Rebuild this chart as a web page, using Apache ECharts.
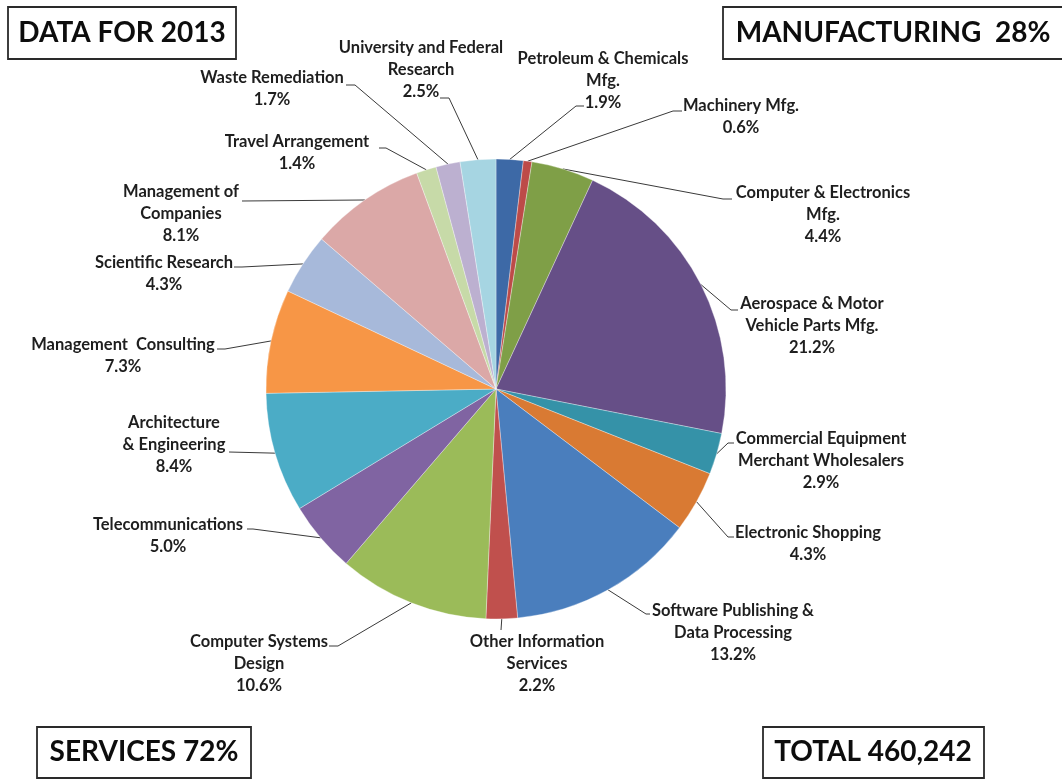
<!DOCTYPE html>
<html>
<head>
<meta charset="utf-8">
<script src="https://cdn.jsdelivr.net/npm/echarts@6/dist/echarts.min.js"></script>
<style>
  html, body { margin: 0; padding: 0; background: #ffffff; }
  #chart { width: 1062px; height: 779px; }
</style>
</head>
<body>
<div id="chart"></div>
<script>
// Industry shares (percent), clockwise from 12 o'clock
const categories = [
  'Petroleum & Chemicals\nMfg.',
  'Machinery Mfg.',
  'Computer & Electronics\nMfg.',
  'Aerospace & Motor\nVehicle Parts Mfg.',
  'Commercial Equipment\nMerchant Wholesalers',
  'Electronic Shopping',
  'Software Publishing &\nData Processing',
  'Other Information\nServices',
  'Computer Systems\nDesign',
  'Telecommunications',
  'Architecture\n& Engineering',
  'Management  Consulting',
  'Scientific Research',
  'Management of\nCompanies',
  'Travel Arrangement',
  'Waste Remediation',
  'University and Federal\nResearch'
];
const shares = [1.9, 0.6, 4.4, 21.2, 2.9, 4.3, 13.2, 2.2, 10.6, 5.0, 8.4, 7.3, 4.3, 8.1, 1.4, 1.7, 2.5];

// Summary boxes
const yearText = 'DATA FOR 2013';
const manufacturingText = 'MANUFACTURING  28%';
const servicesText = 'SERVICES 72%';
const totalText = 'TOTAL 460,242';

const sliceColors = [
  '#3d69a6', '#bd4b48', '#7f9f47', '#664f87', '#3592a8', '#d97a33',
  '#4a7ebd', '#c0504d', '#9bbb59', '#8064a2', '#4bacc6', '#f79646',
  '#a7b9da', '#dba8a7', '#c7daa8', '#bcb0d0', '#a6d5e2'
];

// Label block placement: centre x, first-line centre y, leader elbow point, stub length (+ right, - left)
const labelPlacement = [
  { x: 603, y: 59,  elbow: [576, 106], stub: 8 },
  { x: 741, y: 106, elbow: [673, 111], stub: 9 },
  { x: 823, y: 193, elbow: [723, 199], stub: 9 },
  { x: 812, y: 304, elbow: [731, 310], stub: 7 },
  { x: 821, y: 439, elbow: [728, 443], stub: 6 },
  { x: 808, y: 533, elbow: [728, 537], stub: 6 },
  { x: 733, y: 611, elbow: [646, 614], stub: 4 },
  { x: 537, y: 642, elbow: [501, 630], stub: 0 },
  { x: 259, y: 642, elbow: [338, 646], stub: -9 },
  { x: 168, y: 525, elbow: [253, 529], stub: -6 },
  { x: 174, y: 423, elbow: [229, 452], stub: 0 },
  { x: 123, y: 345, elbow: [225, 349], stub: -8 },
  { x: 164, y: 263, elbow: [242, 267], stub: -8 },
  { x: 181, y: 192, elbow: [242, 201], stub: 0 },
  { x: 297, y: 142, elbow: [386, 148], stub: -7 },
  { x: 272, y: 78,  elbow: [355, 85],  stub: -9 },
  { x: 421, y: 48,  elbow: [449, 98],  stub: -9 }
];

const LINE_H = 22;
const labelFont = 'Lato';

const chart = echarts.init(document.getElementById('chart'), null, { renderer: 'canvas' });

function boxGraphic(x, y, w, h, text, tx, ty) {
  return [
    {
      type: 'rect',
      shape: { x: x, y: y, width: w, height: h },
      style: { fill: '#ffffff', stroke: '#2a2a2a', lineWidth: 1.8 },
      z: 10
    },
    {
      type: 'text',
      x: tx, y: ty,
      style: {
        text: text,
        font: 'bold 28px Lato',
        fill: '#0d0d0d',
        align: 'center',
        verticalAlign: 'middle'
      },
      z: 11
    }
  ];
}

const option = {
  backgroundColor: '#ffffff',
  animation: false,
  color: sliceColors,
  graphic: [].concat(
    boxGraphic(8, 7, 228, 52, yearText, 122, 33),
    boxGraphic(723, 7, 345, 52, manufacturingText, 893, 33),
    boxGraphic(37, 727, 214, 51, servicesText, 144, 752),
    boxGraphic(763, 727, 221, 51, totalText, 873, 752)
  ),
  series: [{
    type: 'pie',
    center: [496, 389],
    radius: 230,
    startAngle: 90,
    clockwise: true,
    avoidLabelOverlap: false,
    minShowLabelAngle: 0,
    itemStyle: { borderColor: 'rgba(255,255,255,0.55)', borderWidth: 0.6 },
    emphasis: { disabled: true },
    label: {
      show: true,
      position: 'outside',
      alignTo: 'none',
      color: '#1e1e1e',
      fontFamily: labelFont,
      fontWeight: 'bold',
      fontSize: 16.5,
      lineHeight: LINE_H,
      align: 'center',
      formatter: function (p) {
        return p.name + '\n' + p.value.toFixed(1) + '%';
      }
    },
    labelLine: {
      show: true,
      length: 10,
      length2: 10,
      lineStyle: { color: '#3a3a3a', width: 1 }
    },
    labelLayout: function (params) {
      const place = labelPlacement[params.dataIndex];
      const edge = params.labelLinePoints ? params.labelLinePoints[0] : place.elbow;
      const elbow = place.elbow;
      const stubEnd = [elbow[0] + place.stub, elbow[1]];
      return {
        x: place.x,
        y: place.y - LINE_H / 2,
        align: 'center',
        verticalAlign: 'top',
        labelLinePoints: [[edge[0], edge[1]], [elbow[0], elbow[1]], stubEnd]
      };
    },
    data: categories.map(function (name, i) {
      return { name: name, value: shares[i] };
    })
  }]
};

chart.setOption(option);
</script>
</body>
</html>
